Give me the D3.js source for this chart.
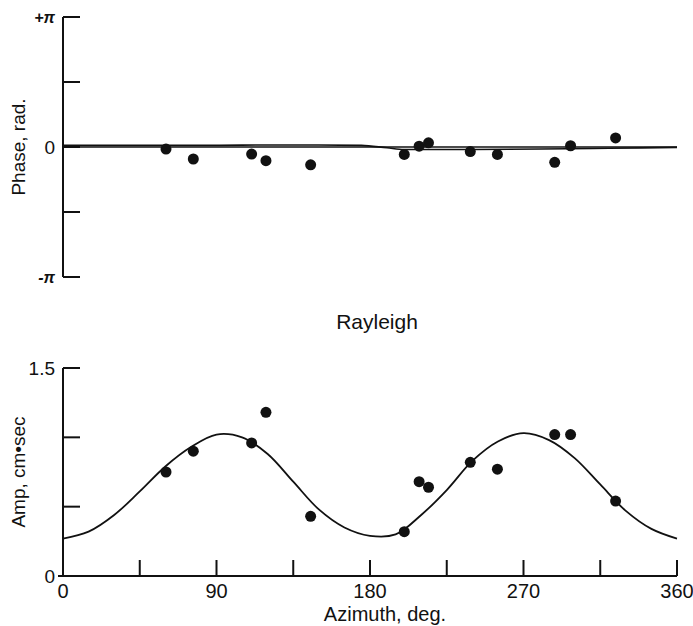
<!DOCTYPE html>
<html>
<head>
<meta charset="utf-8">
<script src="https://cdn.jsdelivr.net/npm/d3@7"></script>
<style>
  body { margin: 0; background: #fff; }
  text { font-family: "Liberation Sans", Arial, Helvetica, sans-serif; fill: #111; }
</style>
</head>
<body>
<div id="chart"></div>
<script>
// azimuth of each station (deg)
const azimuths = [60.4, 76.4, 110.6, 119, 145.2, 200.1, 208.8, 214.3, 238.8, 254.7, 288.3, 297.6, 324];
// observed phase (rad) and amplitude (cm·sec)
const phases = [-0.05, -0.29, -0.17, -0.33, -0.43, -0.18, 0.02, 0.10, -0.11, -0.18, -0.37, 0.03, 0.22];
const amps = [0.75, 0.90, 0.96, 1.18, 0.43, 0.32, 0.68, 0.64, 0.82, 0.77, 1.02, 1.02, 0.54];

// theoretical curves
const curveAz = [0, 15, 30, 45, 60, 75, 90, 105, 120, 135, 150, 165, 180, 195, 210, 225, 240, 255, 270, 285, 300, 315, 330, 345, 360];
const curveAmp = [0.27, 0.32, 0.44, 0.61, 0.79, 0.93, 1.02, 1.00, 0.88, 0.68, 0.48, 0.35, 0.29, 0.30, 0.44, 0.62, 0.83, 0.97, 1.03, 0.98, 0.85, 0.66, 0.47, 0.34, 0.27];
const phaseAz = [0, 30, 60, 90, 120, 150, 175, 190, 200, 240, 280, 320, 360];
const curvePhase = [0.04, 0.04, 0.04, 0.04, 0.05, 0.05, 0.04, -0.02, -0.06, -0.06, -0.05, -0.03, -0.01];

const xTicks = [0, 45, 90, 135, 180, 225, 270, 315, 360];
const xLabels = [0, 90, 180, 270, 360];
const ampTicks = [0, 0.5, 1.0, 1.5];
const phaseTicks = [-Math.PI, -Math.PI / 2, 0, Math.PI / 2, Math.PI];

const W = 693, H = 626;
const svg = d3.select("#chart").append("svg")
    .attr("width", W).attr("height", H);

const x = d3.scaleLinear().domain([0, 360]).range([63, 677]);
const yPh = d3.scaleLinear().domain([-Math.PI, Math.PI]).range([277, 17]);
const yAmp = d3.scaleLinear().domain([0, 1.5]).range([576, 368]);

const tickLen = 17;

// ---- phase panel ----
const phaseG = svg.append("g");
phaseG.append("line")
    .attr("x1", x(0)).attr("x2", x(0))
    .attr("y1", yPh(Math.PI)).attr("y2", yPh(-Math.PI))
    .attr("stroke", "#111").attr("stroke-width", 2);
phaseG.selectAll(".pt").data(phaseTicks).join("line")
    .attr("x1", x(0)).attr("x2", x(0) + tickLen)
    .attr("y1", d => yPh(d)).attr("y2", d => yPh(d))
    .attr("stroke", "#111").attr("stroke-width", 2);

// zero line
phaseG.append("line")
    .attr("x1", x(0)).attr("x2", x(360))
    .attr("y1", yPh(0)).attr("y2", yPh(0))
    .attr("stroke", "#111").attr("stroke-width", 1.3);

phaseG.append("path")
    .datum(phaseAz.map((a, i) => [a, curvePhase[i]]))
    .attr("fill", "none").attr("stroke", "#111").attr("stroke-width", 1.6)
    .attr("d", d3.line().x(d => x(d[0])).y(d => yPh(d[1])).curve(d3.curveMonotoneX));

phaseG.selectAll(".pdot").data(azimuths).join("circle")
    .attr("cx", d => x(d)).attr("cy", (d, i) => yPh(phases[i]))
    .attr("r", 5.5).attr("fill", "#111");

phaseG.append("text").attr("x", 55).attr("y", yPh(0)).attr("dy", "0.36em")
    .attr("text-anchor", "end").attr("font-size", 19).text("0");
phaseG.append("text").attr("x", 55).attr("y", yPh(Math.PI)).attr("dy", "0.36em")
    .attr("text-anchor", "end").attr("font-size", 16).attr("font-weight", "bold")
    .attr("font-style", "italic").text("+π");
phaseG.append("text").attr("x", 55).attr("y", yPh(-Math.PI)).attr("dy", "0.36em")
    .attr("text-anchor", "end").attr("font-size", 16).attr("font-weight", "bold")
    .attr("font-style", "italic").text("-π");

phaseG.append("text")
    .attr("transform", `translate(25, ${yPh(0)}) rotate(-90)`)
    .attr("text-anchor", "middle").attr("font-size", 19)
    .text("Phase, rad.");

// ---- title ----
svg.append("text").attr("x", 377).attr("y", 329)
    .attr("text-anchor", "middle").attr("font-size", 21).text("Rayleigh");

// ---- amplitude panel ----
const ampG = svg.append("g");
ampG.append("line")
    .attr("x1", x(0)).attr("x2", x(0))
    .attr("y1", yAmp(1.5)).attr("y2", yAmp(0))
    .attr("stroke", "#111").attr("stroke-width", 2);
ampG.append("line")
    .attr("x1", x(0)).attr("x2", x(360))
    .attr("y1", yAmp(0)).attr("y2", yAmp(0))
    .attr("stroke", "#111").attr("stroke-width", 2);
ampG.selectAll(".at").data(ampTicks.slice(1)).join("line")
    .attr("x1", x(0)).attr("x2", x(0) + tickLen)
    .attr("y1", d => yAmp(d)).attr("y2", d => yAmp(d))
    .attr("stroke", "#111").attr("stroke-width", 2);
ampG.append("line")
    .attr("x1", x(0) - 5).attr("x2", x(0))
    .attr("y1", yAmp(0)).attr("y2", yAmp(0))
    .attr("stroke", "#111").attr("stroke-width", 2);
ampG.selectAll(".xt").data(xTicks.slice(1)).join("line")
    .attr("x1", d => x(d)).attr("x2", d => x(d))
    .attr("y1", yAmp(0)).attr("y2", yAmp(0) - 16)
    .attr("stroke", "#111").attr("stroke-width", 2);

ampG.append("path")
    .datum(curveAz.map((a, i) => [a, curveAmp[i]]))
    .attr("fill", "none").attr("stroke", "#111").attr("stroke-width", 1.8)
    .attr("d", d3.line().x(d => x(d[0])).y(d => yAmp(d[1])).curve(d3.curveCatmullRom.alpha(0.5)));

ampG.selectAll(".adot").data(azimuths).join("circle")
    .attr("cx", d => x(d)).attr("cy", (d, i) => yAmp(amps[i]))
    .attr("r", 5.5).attr("fill", "#111");

ampG.selectAll(".yl").data([0, 1.5]).join("text")
    .attr("x", 55).attr("y", d => yAmp(d)).attr("dy", "0.36em")
    .attr("text-anchor", "end").attr("font-size", 19)
    .text(d => d === 0 ? "0" : "1.5");
ampG.selectAll(".xl").data(xLabels).join("text")
    .attr("x", d => x(d)).attr("y", 598)
    .attr("text-anchor", "middle").attr("font-size", 20)
    .text(d => d);

ampG.append("text").attr("x", 385).attr("y", 621)
    .attr("text-anchor", "middle").attr("font-size", 20)
    .text("Azimuth, deg.");
ampG.append("text")
    .attr("transform", `translate(25, ${yAmp(0.75)}) rotate(-90)`)
    .attr("text-anchor", "middle").attr("font-size", 19)
    .text("Amp, cm•sec");
</script>
</body>
</html>
